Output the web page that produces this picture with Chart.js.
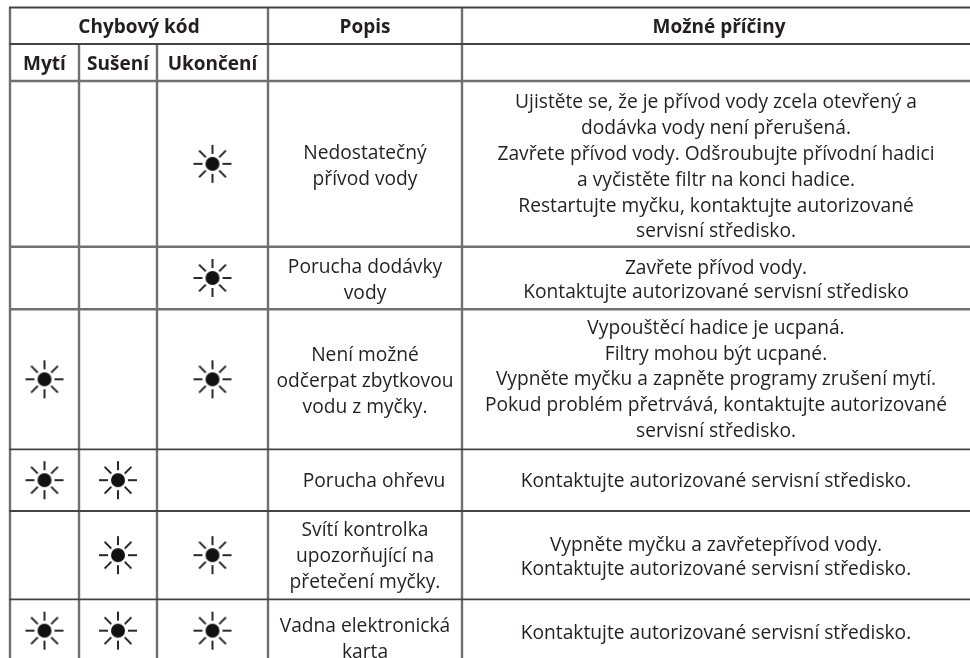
<!DOCTYPE html>
<html lang="cs">
<head>
    <meta charset="UTF-8">
    <title>Chybové kódy</title>
    <script src="https://cdn.jsdelivr.net/npm/chart.js"></script>
    <style>
        html, body { margin: 0; padding: 0; background: #fff; }
        canvas { display: block; }
    </style>
</head>
<body>
    <canvas id="codes" width="970" height="658"></canvas>
    <script>
        // table content
        var groupHeader = 'Chybový kód';
        var headers = ['Popis', 'Možné příčiny'];
        var lampNames = ['Mytí', 'Sušení', 'Ukončení'];
        var mytiLamps = [0, 0, 1, 1, 0, 1];
        var suseniLamps = [0, 0, 0, 1, 1, 1];
        var ukonceniLamps = [1, 1, 1, 0, 1, 1];
        var descriptions = [
            ['Nedostatečný', 'přívod vody'],
            ['Porucha dodávky', 'vody'],
            ['Není možné', 'odčerpat zbytkovou', 'vodu z myčky.'],
            ['Porucha ohřevu'],
            ['Svítí kontrolka', 'upozorňující na', 'přetečení myčky.'],
            ['Vadna elektronická', 'karta']
        ];
        var causes = [
            ['Ujistěte se, že je přívod vody zcela otevřený a', 'dodávka vody není přerušená.', 'Zavřete přívod vody. Odšroubujte přívodní hadici', 'a vyčistěte filtr na konci hadice.', 'Restartujte myčku, kontaktujte autorizované', 'servisní středisko.'],
            ['Zavřete přívod vody.', 'Kontaktujte autorizované servisní středisko'],
            ['Vypouštěcí hadice je ucpaná.', 'Filtry mohou být ucpané.', 'Vypněte myčku a zapněte programy zrušení mytí.', 'Pokud problém přetrvává, kontaktujte autorizované', 'servisní středisko.'],
            ['Kontaktujte autorizované servisní středisko.'],
            ['Vypněte myčku a zavřetepřívod vody.', 'Kontaktujte autorizované servisní středisko.'],
            ['Kontaktujte autorizované servisní středisko.']
        ];

        // table geometry, in axis units
        var colEdges = [10, 79, 157, 268, 462, 970];
        var rowEdges = [7.5, 44, 81, 246.7, 309.3, 449.3, 511, 599.3, 662];
        var darkRows = [true, true, false, false, false, true, true, true];

        var lampColumns = [mytiLamps, suseniLamps, ukonceniLamps];

        function mid(a, b) { return (a + b) / 2; }

        function sunIcon() {
            var c = document.createElement('canvas');
            c.width = 42; c.height = 42;
            var g = c.getContext('2d');
            g.translate(21, 21);
            g.fillStyle = '#111';
            g.beginPath();
            g.arc(0, 0, 7, 0, Math.PI * 2);
            g.fill();
            g.strokeStyle = '#111';
            g.lineWidth = 1.8;
            for (var i = 0; i < 8; i++) {
                g.rotate(Math.PI / 4);
                g.beginPath();
                g.moveTo(i % 2 ? 10 : 9.5, 0);
                g.lineTo(19, 0);
                g.stroke();
            }
            return c;
        }

        function rule(x1, y1, x2, y2, dark) {
            return {
                type: 'line',
                data: [{ x: x1, y: y1 }, { x: x2, y: y2 }],
                borderColor: dark ? '#444' : '#707070',
                borderWidth: dark ? 1.8 : 2.4,
                pointRadius: 0
            };
        }

        var datasets = [];
        rowEdges.slice(0, -1).forEach(function (y, i) {
            datasets.push(rule(colEdges[0] - 1, y, 970, y, darkRows[i]));
        });
        colEdges.slice(0, -1).forEach(function (x, i) {
            var fromY = (i === 1 || i === 2) ? rowEdges[1] : rowEdges[0];
            datasets.push(rule(x, fromY, x, 658, false));
        });

        var lampPoints = [];
        lampColumns.forEach(function (lamps, c) {
            lamps.forEach(function (on, r) {
                if (on) lampPoints.push({ x: mid(colEdges[c], colEdges[c + 1]), y: mid(rowEdges[r + 2], rowEdges[r + 3]) });
            });
        });
        datasets.push({
            data: lampPoints,
            pointStyle: sunIcon(),
            pointRadius: 21,
            showLine: false
        });

        var tableText = {
            id: 'tableText',
            afterDatasetsDraw: function (chart) {
                var ctx = chart.ctx;
                var xs = chart.scales.x, ys = chart.scales.y;
                var regular = '19.2px "Open Sans", sans-serif';
                var bold = 'bold 19px "Open Sans", sans-serif';

                function put(text, x, y, font) {
                    ctx.font = font;
                    ctx.fillText(text, xs.getPixelForValue(x), ys.getPixelForValue(y));
                }
                function block(lines, x, y, lineH) {
                    lines.forEach(function (t, i) {
                        put(t, x, y + (i - (lines.length - 1) / 2) * lineH, regular);
                    });
                }

                ctx.save();
                ctx.fillStyle = '#231f20';
                ctx.textAlign = 'center';
                ctx.textBaseline = 'middle';
                put(groupHeader, 139, 27.5, bold);
                put(headers[0], mid(colEdges[3], colEdges[4]), 27.5, bold);
                put(headers[1], 719, 27.5, bold);
                lampNames.forEach(function (t, i) {
                    put(t, mid(colEdges[i], colEdges[i + 1]), 64.5, bold);
                });
                var popisX = [365, 365, 365, 374, 365, 365];
                var popisY = [166.5, 281, 382, 482, 557, 640];
                var pricinyY = [167.5, 281, 380, 482, 558, 634];
                var pricinyH = [25.8, 24, 25.8, 26, 24, 26];
                descriptions.forEach(function (lines, r) { block(lines, popisX[r], popisY[r], 26); });
                causes.forEach(function (lines, r) { block(lines, 716, pricinyY[r], pricinyH[r]); });
                ctx.restore();
            }
        };

        new Chart(document.getElementById('codes').getContext('2d'), {
            type: 'scatter',
            data: { datasets: datasets },
            options: {
                responsive: false,
                animation: false,
                layout: { padding: 0, autoPadding: false },
                plugins: { legend: { display: false }, tooltip: { enabled: false } },
                scales: {
                    x: { type: 'linear', min: 0, max: 970, display: false },
                    y: { type: 'linear', min: 0, max: 658, reverse: true, display: false }
                }
            },
            plugins: [tableText]
        });
    </script>
</body>
</html>
